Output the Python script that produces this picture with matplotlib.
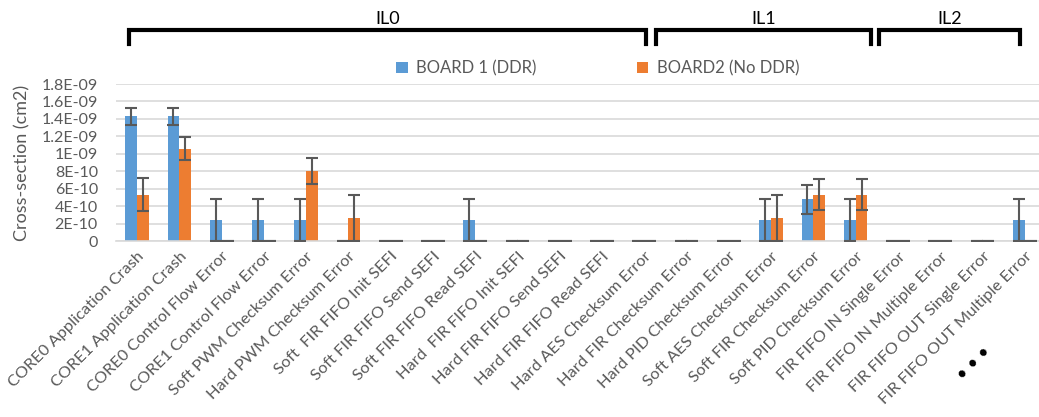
import numpy as np
import matplotlib
matplotlib.use('Agg')
from matplotlib import pyplot as plt
from matplotlib.transforms import blended_transform_factory

plt.rcParams['font.family'] = ['Lato', 'DejaVu Sans']

categories = ['CORE0 Application Crash', 'CORE1 Application Crash',
              'CORE0 Control Flow Error', 'CORE1 Control Flow Error',
              'Soft PWM Checksum Error', 'Hard PWM Checksum Error',
              'Soft  FIR FIFO Init SEFI', 'Soft FIR FIFO Send SEFI',
              'Soft FIR FIFO Read SEFI', 'Hard  FIR FIFO Init SEFI',
              'Hard FIR FIFO Send SEFI', 'Hard FIR FIFO Read SEFI',
              'Hard AES Checksum Error', 'Hard FIR Checksum Error',
              'Hard PID Checksum Error', 'Soft AES Checksum Error',
              'Soft FIR Checksum Error', 'Soft PID Checksum Error',
              'FIR FIFO IN Single Error', 'FIR FIFO IN Multiple Error',
              'FIR FIFO OUT Single Error', 'FIR FIFO OUT Multiple Error']

board1 = [1.43e-9, 1.43e-9, 2.4e-10, 2.4e-10, 2.4e-10, 0, 0, 0, 2.4e-10, 0, 0, 0,
          0, 0, 0, 2.4e-10, 4.8e-10, 2.4e-10, 0, 0, 0, 2.4e-10]
board1_err = [1.0e-10, 1.0e-10, 2.4e-10, 2.4e-10, 2.4e-10, 0, 0, 0, 2.4e-10, 0, 0, 0,
              0, 0, 0, 2.4e-10, 1.65e-10, 2.4e-10, 0, 0, 0, 2.4e-10]
board2 = [5.3e-10, 1.06e-9, 0, 0, 8.0e-10, 2.65e-10, 0, 0, 0, 0, 0, 0,
          0, 0, 0, 2.65e-10, 5.3e-10, 5.3e-10, 0, 0, 0, 0]
board2_err = [1.9e-10, 1.35e-10, 0, 0, 1.5e-10, 2.65e-10, 0, 0, 0, 0, 0, 0,
              0, 0, 0, 2.65e-10, 1.8e-10, 1.8e-10, 0, 0, 0, 0]

yticks = [0, 2e-10, 4e-10, 6e-10, 8e-10, 1e-9, 1.2e-9, 1.4e-9, 1.6e-9, 1.8e-9]
ytick_labels = ['0', '2E-10', '4E-10', '6E-10', '8E-10', '1E-09', '1.2E-09',
                '1.4E-09', '1.6E-09', '1.8E-09']

groups = ['IL0', 'IL1', 'IL2']
group_spans = [(-0.19, 12.03), (12.27, 17.37), (17.56, 20.89)]

blue = '#5B9BD5'
orange = '#ED7D31'
txt = '#595959'

fig = plt.figure(figsize=(10.39, 4.17), dpi=100)
ax = fig.add_axes([0.1116, 0.422, 0.895, 0.3765])

x = np.arange(len(categories))
w = 0.28
ekw = dict(ecolor='#595959', elinewidth=1.5, capsize=4.3, capthick=1.5)
ax.bar(x - w/2, board1, w, color=blue, label='BOARD 1 (DDR)', zorder=2)
ax.bar(x + w/2, board2, w, color=orange, label='BOARD2 (No DDR)', zorder=2)
ax.errorbar(x - w/2, board1, yerr=board1_err, fmt='none', zorder=3, **ekw)
ax.errorbar(x + w/2, board2, yerr=board2_err, fmt='none', zorder=3, **ekw)

ax.set_xlim(-0.5, len(categories) - 0.5)
ax.set_ylim(0, 1.8e-9)
ax.set_yticks(yticks)
ax.set_yticklabels(ytick_labels)
ax.yaxis.grid(True, color='#D9D9D9', linewidth=1.2, zorder=0)
ax.set_axisbelow(True)
for s in ['top', 'right', 'left']:
    ax.spines[s].set_visible(False)
ax.spines['bottom'].set_color('#D9D9D9')
ax.spines['bottom'].set_linewidth(1.2)
ax.tick_params(axis='both', length=0, colors=txt)
ax.tick_params(axis='y', labelsize=11.5, pad=13)
ax.set_xticks(x)
ax.set_xticklabels(categories, rotation=45, ha='right', rotation_mode='anchor',
                   fontsize=11.8)
ax.tick_params(axis='x', pad=6)
ax.set_ylabel('Cross-section (cm2)', fontsize=13, color=txt, labelpad=8)

ax.legend(loc='lower center', bbox_to_anchor=(0.518, 0.985), ncol=2, frameon=False,
          fontsize=12, labelcolor=txt, handlelength=0.7, handleheight=0.7,
          columnspacing=6, handletextpad=0.5, borderaxespad=0.2)

# group brackets above the plot
tr = blended_transform_factory(ax.transData, fig.transFigure)
for name, (a, b) in zip(groups, group_spans):
    ax.plot([a, a, b, b], [0.895, 0.928, 0.928, 0.895], color='black', lw=3,
            transform=tr, clip_on=False, solid_joinstyle='miter')
    ax.text((a + b) / 2, 0.942, name, transform=tr, ha='center', va='baseline',
            fontsize=13, color='black')

fig.text(0.937, 0.13, '\u2022 \u2022 \u2022', rotation=45, ha='center', va='center',
         fontsize=13, color='black')

fig.savefig('out.png', dpi=100)
